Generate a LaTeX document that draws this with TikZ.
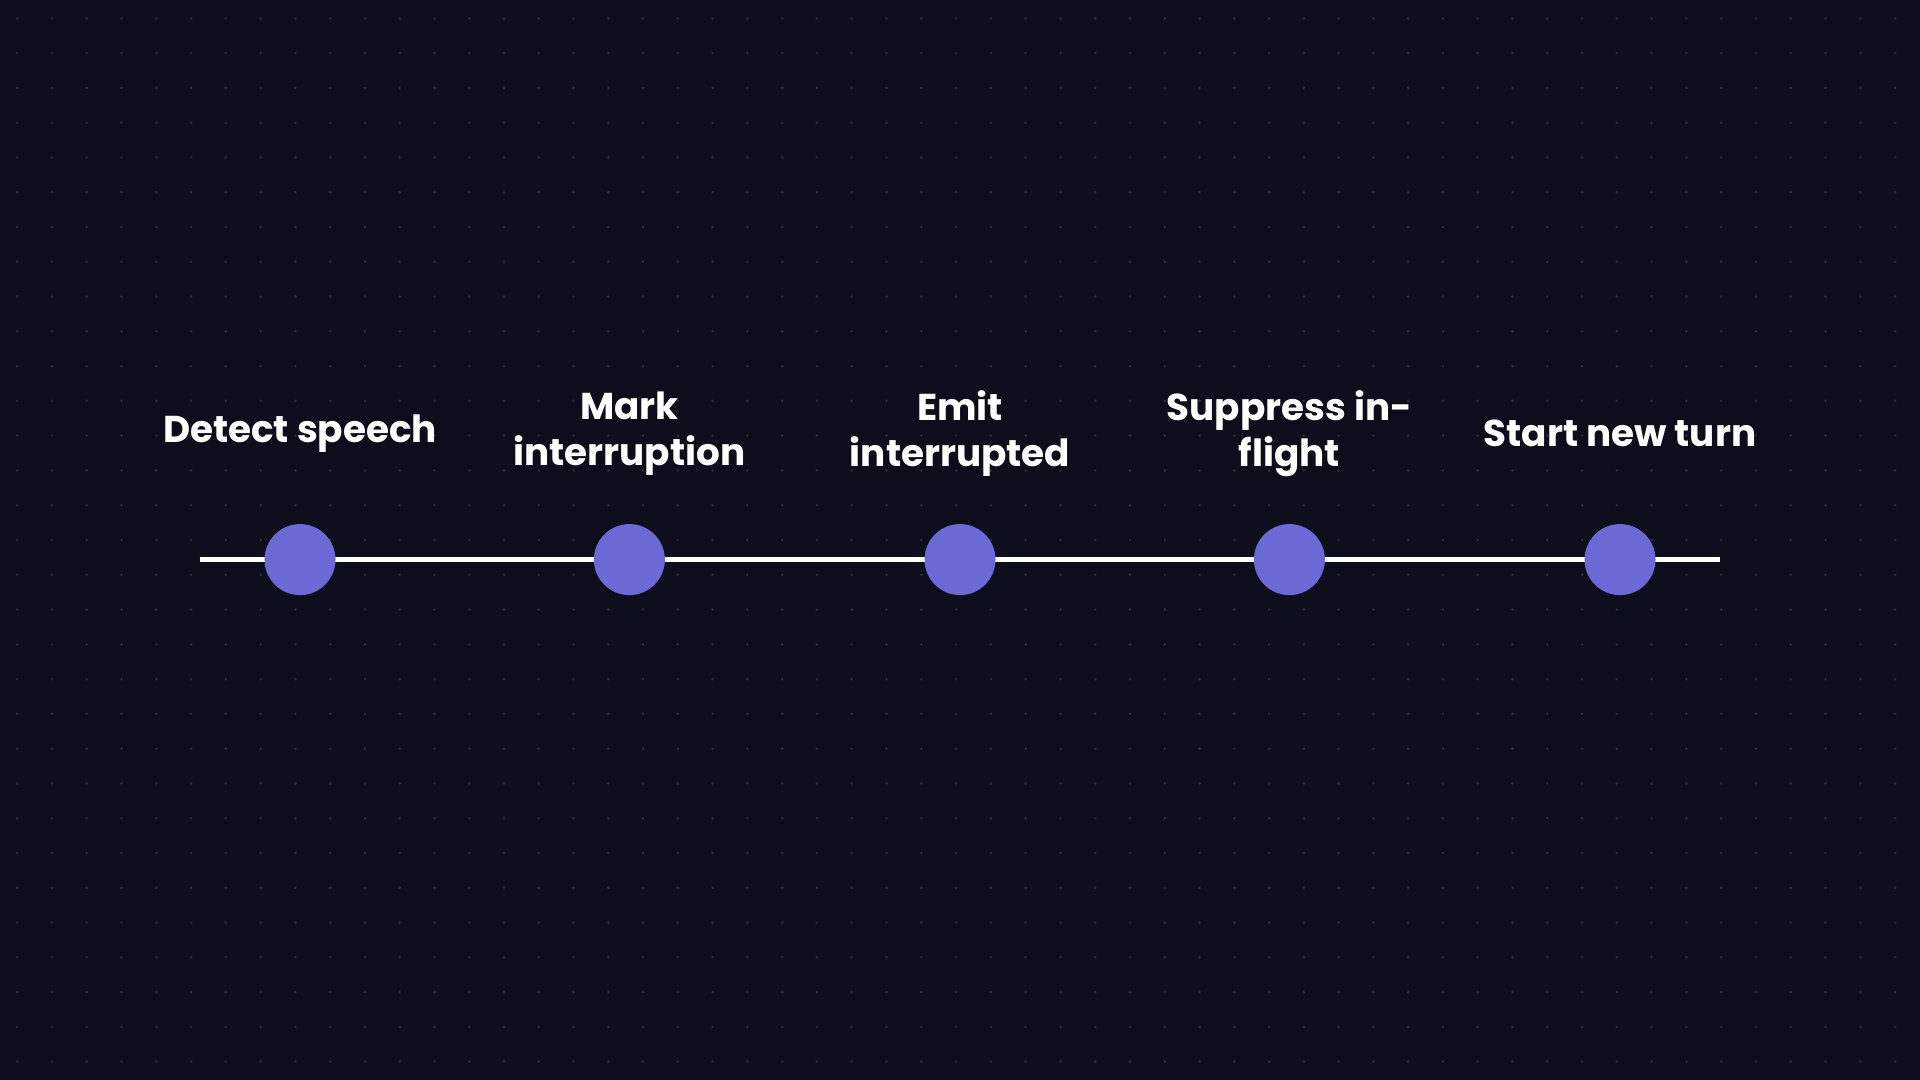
\documentclass[tikz,border=0pt]{standalone}
\usepackage{fontspec}
\setmainfont{Poppins}[BoldFont={* Bold}]
\begin{document}
\begin{tikzpicture}[x=1pt,y=-1pt,
  dot/.style={circle,fill=stepc,minimum size=58pt,inner sep=0pt},
  lbl/.style={text=white,font=\fontsize{30.5}{38}\selectfont\bfseries,align=center,anchor=center}]
\definecolor{bg}{HTML}{0D0E1B}
\definecolor{stepc}{HTML}{6B69D6}
\definecolor{gridc}{HTML}{2C2E3C}
\fill[bg] (0,0) rectangle (1568,882);
\useasboundingbox (0,0) rectangle (1568,882);
\foreach \i in {0,...,55}{\foreach \j in {0,...,31}{
  \fill[gridc] (14+\i*28.4,15+\j*28.4) circle (1.2);}}
\coordinate (ls) at (163,457);
\coordinate (le) at (1405,457);
\draw[white,line width=4pt] (ls) -- (le);
\node[dot] (d1) at (245,457) {};
\node[dot] (d2) at (514,457) {};
\node[dot] (d3) at (784,457) {};
\node[dot] (d4) at (1053,457) {};
\node[dot] (d5) at (1323,457) {};
\node[lbl] (t1) at (245,354) {Detect speech};
\node[lbl] (t2) at (514,354) {Mark\\interruption};
\node[lbl] (t3) at (784,354) {Emit\\interrupted};
\node[lbl] (t4) at (1053,354) {Suppress in-\\flight};
\node[lbl] (t5) at (1323,354) {Start new turn};
\end{tikzpicture}
\end{document}
